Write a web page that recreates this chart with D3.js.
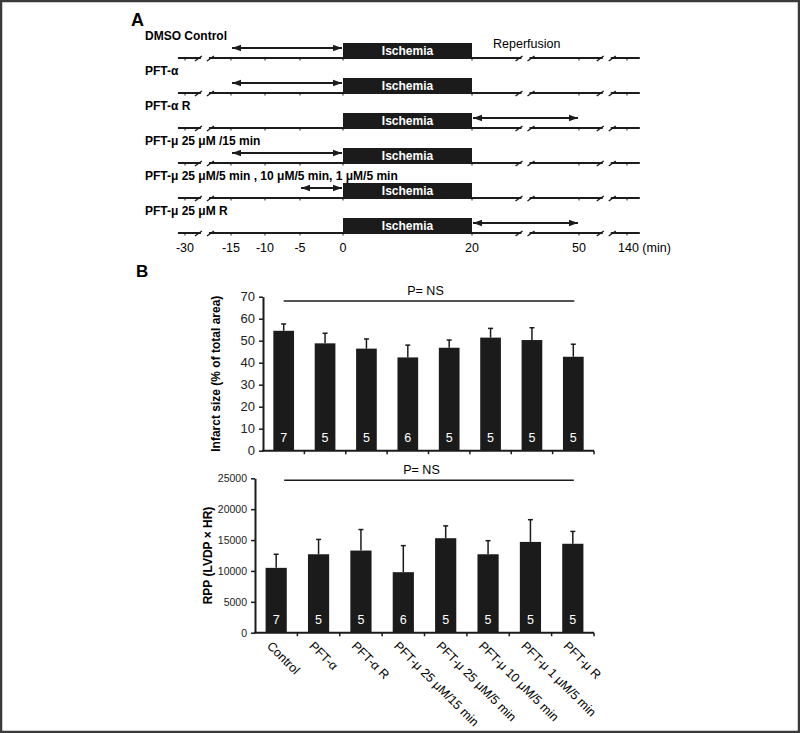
<!DOCTYPE html>
<html>
<head>
<meta charset="utf-8">
<script src="https://cdn.jsdelivr.net/npm/d3@7"></script>
<style>
  body { margin: 0; background: #fff; }
  text { font-family: "Liberation Sans", Arial, sans-serif; }
</style>
</head>
<body>
<svg id="fig" width="800" height="733"></svg>
<script>
// ---- panel A: perfusion protocols ----
const protocolLabels = ['DMSO Control', 'PFT-α', 'PFT-α R', 'PFT-μ 25 μM /15 min',
  'PFT-μ 25 μM/5 min , 10 μM/5 min, 1 μM/5 min', 'PFT-μ 25 μM R'];
const drugStart = [-15, -15, 20, -15, -5, 20];
const drugEnd = [0, 0, 50, 0, 0, 50];
const ischemiaWindow = [0, 20];
const timeTicks = [-30, -15, -10, -5, 0, 20, 50, 140];
const timeBreaks = [-23.5, 35, 102];

// ---- panel B: infarct size and RPP ----
const groups = ['Control', 'PFT-α', 'PFT-α R', 'PFT-μ 25 μM/15 min', 'PFT-μ 25 μM/5 min',
  'PFT-μ 10 μM/5 min', 'PFT-μ 1 μM/5 min', 'PFT-μ R'];
const nHearts = [7, 5, 5, 6, 5, 5, 5, 5];
const infarct = [54.5, 48.8, 46.4, 42.4, 46.8, 51.4, 50.3, 42.7];
const infarctErr = [3.1, 4.6, 4.4, 5.6, 3.5, 4.2, 5.6, 5.7];
const rpp = [10500, 12700, 13300, 9800, 15300, 12700, 14700, 14400];
const rppErr = [2200, 2400, 3400, 4300, 2000, 2200, 3600, 2000];

const ink = '#1b1b1b';
const svg = d3.select('#fig');

svg.append('rect')
  .attr('x', 1).attr('y', 1).attr('width', 798).attr('height', 731)
  .attr('fill', 'none').attr('stroke', '#3a3a3a').attr('stroke-width', 2.5);

// arrow head marker
const defs = svg.append('defs');
defs.append('marker')
  .attr('id', 'head')
  .attr('viewBox', '0 0 10 7')
  .attr('refX', 10).attr('refY', 3.5)
  .attr('markerWidth', 5).attr('markerHeight', 5)
  .attr('markerUnits', 'strokeWidth')
  .attr('orient', 'auto-start-reverse')
  .append('path').attr('d', 'M0,0 L10,3.5 L0,7 Z').attr('fill', ink);

// time axis is broken, so a piecewise scale
const t = d3.scaleLinear()
  .domain(timeTicks)
  .range([185, 231, 265, 300, 343, 472, 579, 627]);
const rowY = d3.scaleLinear().domain([0, protocolLabels.length - 1]).range([58, 233]);

svg.append('text').attr('x', 131).attr('y', 26)
  .style('font-size', '18px').style('font-weight', 'bold').text('A');

svg.append('text').attr('x', 493).attr('y', 48)
  .style('font-size', '12.5px').text('Reperfusion');

const rows = svg.append('g').selectAll('g')
  .data(protocolLabels)
  .enter().append('g')
  .attr('transform', (d, i) => 'translate(0,' + rowY(i) + ')');

rows.append('text')
  .attr('x', 145).attr('y', -18)
  .style('font-size', '12px').style('font-weight', 'bold')
  .text(d => d);

rows.append('line')
  .attr('x1', t(-32.3)).attr('x2', t(164))
  .attr('stroke', ink).attr('stroke-width', 1.8);

rows.selectAll('.tk')
  .data(timeTicks)
  .enter().append('line')
  .attr('class', 'tk')
  .attr('x1', d => t(d)).attr('x2', d => t(d))
  .attr('y1', 0).attr('y2', 2.5)
  .attr('stroke', ink).attr('stroke-width', 1);

const brk = rows.selectAll('.brk')
  .data(timeBreaks)
  .enter().append('g')
  .attr('class', 'brk')
  .attr('transform', d => 'translate(' + t(d) + ',0)');
brk.append('rect').attr('x', -4).attr('y', -3).attr('width', 8).attr('height', 6).attr('fill', '#fff');
brk.append('line').attr('x1', -10).attr('y1', 3).attr('x2', -3).attr('y2', -2)
  .attr('stroke', ink).attr('stroke-width', 1.4);
brk.append('line').attr('x1', 2).attr('y1', 3).attr('x2', 9).attr('y2', -2)
  .attr('stroke', ink).attr('stroke-width', 1.4);

rows.append('rect')
  .attr('x', t(ischemiaWindow[0]))
  .attr('y', -15)
  .attr('width', t(ischemiaWindow[1]) - t(ischemiaWindow[0]))
  .attr('height', 15)
  .attr('fill', ink);

rows.append('text')
  .attr('x', (t(ischemiaWindow[0]) + t(ischemiaWindow[1])) / 2)
  .attr('y', -3.5)
  .attr('text-anchor', 'middle')
  .attr('fill', '#fff')
  .style('font-size', '12px').style('font-weight', 'bold')
  .text('Ischemia');

rows.append('line')
  .attr('x1', (d, i) => t(drugStart[i]) + 1)
  .attr('x2', (d, i) => t(drugEnd[i]) - 1)
  .attr('y1', -10).attr('y2', -10)
  .attr('stroke', ink).attr('stroke-width', 1.8)
  .attr('marker-start', 'url(#head)')
  .attr('marker-end', 'url(#head)');

svg.append('g').selectAll('text')
  .data(timeTicks)
  .enter().append('text')
  .attr('x', d => d === 140 ? t(d) - 9 : t(d))
  .attr('y', 252)
  .attr('text-anchor', d => d === 140 ? 'start' : 'middle')
  .style('font-size', '12.5px')
  .text(d => d === 140 ? '140 (min)' : d);

svg.append('text').attr('x', 136).attr('y', 277)
  .style('font-size', '17px').style('font-weight', 'bold').text('B');

// ---- bar charts ----
function barChart(cfg) {
  const x = d3.scaleBand().domain(groups).range(cfg.xRange).paddingInner(0.5).paddingOuter(0.25);
  const y = d3.scaleLinear().domain([0, cfg.max]).range(cfg.yRange);
  const g = svg.append('g');

  g.selectAll('.bar')
    .data(groups)
    .enter().append('rect')
    .attr('class', 'bar')
    .attr('x', d => x(d))
    .attr('width', x.bandwidth())
    .attr('y', (d, i) => y(cfg.values[i]))
    .attr('height', (d, i) => y(0) - y(cfg.values[i]))
    .attr('fill', ink);

  const err = g.selectAll('.err')
    .data(groups)
    .enter().append('g')
    .attr('class', 'err');
  err.append('line')
    .attr('x1', d => x(d) + x.bandwidth() / 2)
    .attr('x2', d => x(d) + x.bandwidth() / 2)
    .attr('y1', (d, i) => y(cfg.values[i]))
    .attr('y2', (d, i) => y(cfg.values[i] + cfg.errors[i]))
    .attr('stroke', ink).attr('stroke-width', 1.5);
  err.append('line')
    .attr('x1', d => x(d) + x.bandwidth() / 2 - 2.5)
    .attr('x2', d => x(d) + x.bandwidth() / 2 + 2.5)
    .attr('y1', (d, i) => y(cfg.values[i] + cfg.errors[i]))
    .attr('y2', (d, i) => y(cfg.values[i] + cfg.errors[i]))
    .attr('stroke', ink).attr('stroke-width', 1.5);

  g.selectAll('.n')
    .data(groups)
    .enter().append('text')
    .attr('x', d => x(d) + x.bandwidth() / 2)
    .attr('y', y(0) - 9)
    .attr('text-anchor', 'middle')
    .attr('fill', '#fff')
    .style('font-size', '12.5px')
    .text((d, i) => nHearts[i]);

  const yAxis = g.append('g')
    .attr('transform', 'translate(' + cfg.xRange[0] + ',0)')
    .call(d3.axisLeft(y).tickValues(cfg.ticks).tickFormat(d3.format('d'))
      .tickSize(4).tickSizeOuter(0).tickPadding(4));
  yAxis.select('.domain').attr('stroke', ink).attr('stroke-width', 2);
  yAxis.selectAll('.tick line').attr('stroke', ink).attr('stroke-width', 1.5);
  yAxis.selectAll('.tick text')
    .attr('fill', '#222')
    .style('font-family', '"Liberation Sans", Arial, sans-serif')
    .style('font-size', cfg.tickFont);

  // x axis with ticks between the groups
  g.append('line')
    .attr('x1', cfg.xRange[0] - 1).attr('x2', cfg.xRange[1])
    .attr('y1', y(0)).attr('y2', y(0))
    .attr('stroke', ink).attr('stroke-width', 2);
  g.selectAll('.xt')
    .data(d3.range(1, groups.length + 1))
    .enter().append('line')
    .attr('x1', d => cfg.xRange[0] + d * x.step())
    .attr('x2', d => cfg.xRange[0] + d * x.step())
    .attr('y1', y(0)).attr('y2', y(0) + 3.5)
    .attr('stroke', ink).attr('stroke-width', 1.5);

  // significance line
  const first = x(groups[0]) + x.bandwidth() / 2;
  const last = x(groups[groups.length - 1]) + x.bandwidth() / 2;
  g.append('line')
    .attr('x1', first + cfg.sigShift).attr('x2', last + 1)
    .attr('y1', y(cfg.sigLevel)).attr('y2', y(cfg.sigLevel))
    .attr('stroke', ink).attr('stroke-width', 1.5);
  g.append('text')
    .attr('x', (first + last) / 2 - 3)
    .attr('y', y(cfg.sigLevel) - 6)
    .attr('text-anchor', 'middle')
    .style('font-size', '12.5px')
    .text('P= NS');

  g.append('text')
    .attr('transform', 'translate(' + cfg.titleX + ',' + (y(0) + y(cfg.max)) / 2 + ') rotate(-90)')
    .attr('text-anchor', 'middle')
    .style('font-size', '12px').style('font-weight', 'bold')
    .text(cfg.title);

  if (cfg.groupLabels) {
    g.selectAll('.gl')
      .data(groups)
      .enter().append('text')
      .attr('transform', d => 'translate(' + (x(d) + x.bandwidth() / 2 - 10) + ',' + (y(0) + 14) + ') rotate(45)')
      .style('font-size', '12.5px')
      .text(d => d);
  }
}

barChart({
  values: infarct, errors: infarctErr, max: 70,
  ticks: d3.range(0, 71, 10),
  xRange: [263, 594], yRange: [450.7, 296.7],
  tickFont: '13px', sigLevel: 68, sigShift: 0,
  title: 'Infarct size (% of total area)', titleX: 220
});

barChart({
  values: rpp, errors: rppErr, max: 25000,
  ticks: d3.range(0, 25001, 5000),
  xRange: [255, 594], yRange: [632.7, 478.3],
  tickFont: '10.5px', sigLevel: 24700, sigShift: 8,
  title: 'RPP (LVDP ×  HR)', titleX: 212,
  groupLabels: true
});
</script>
</body>
</html>
